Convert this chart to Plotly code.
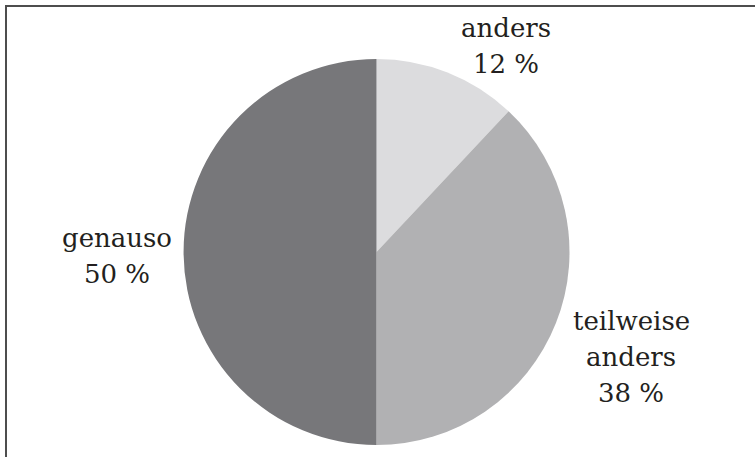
import plotly.graph_objects as go

# Antworten und Anteile in Prozent
labels = ["anders", "teilweise anders", "genauso"]
label_lines = [["anders"], ["teilweise", "anders"], ["genauso"]]
values = [12, 38, 50]
colors = ["#dcdcde", "#b1b1b3", "#77777a"]

W, H = 755, 457
FONT = dict(family="DejaVu Serif", size=26, color="#231f20")
LINE_STEP = 36  # Zeilenabstand der Beschriftung in px

fig = go.Figure(
    go.Pie(
        labels=labels,
        values=values,
        sort=False,
        direction="clockwise",
        rotation=0,
        marker=dict(colors=colors, line=dict(width=0)),
        textinfo="none",
        hoverinfo="label+percent",
        showlegend=False,
        domain=dict(x=[183.5 / W, 569.5 / W], y=[12 / H, 398 / H]),
    )
)

# Beschriftungen: Kategorie und Anteil je Segment, Zeile für Zeile
# (Mittelpunkt x und Grundlinie der ersten Zeile in px)
label_pos = [(506, 37), (631, 330), (117, 247)]
for lines, val, (px, base) in zip(label_lines, values, label_pos):
    rows = lines + [f"{val} %"]
    for i, row in enumerate(rows):
        y_mid = base + i * LINE_STEP - 9
        fig.add_annotation(
            x=px / W, y=1 - y_mid / H, xref="paper", yref="paper",
            text=row, showarrow=False,
            xanchor="center", yanchor="middle", align="center",
            font=FONT,
        )

# Rahmen links und oben
fig.add_shape(type="line", xref="paper", yref="paper",
              x0=6 / W, x1=6 / W, y0=-0.05, y1=1 - 5 / H,
              line=dict(color="#4d4d4d", width=2))
fig.add_shape(type="line", xref="paper", yref="paper",
              x0=5 / W, x1=1.05, y0=1 - 6 / H, y1=1 - 6 / H,
              line=dict(color="#4d4d4d", width=2))

fig.update_layout(
    width=W, height=H,
    margin=dict(l=0, r=0, t=0, b=0),
    paper_bgcolor="white",
    plot_bgcolor="white",
)

fig.write_html("out.html")
